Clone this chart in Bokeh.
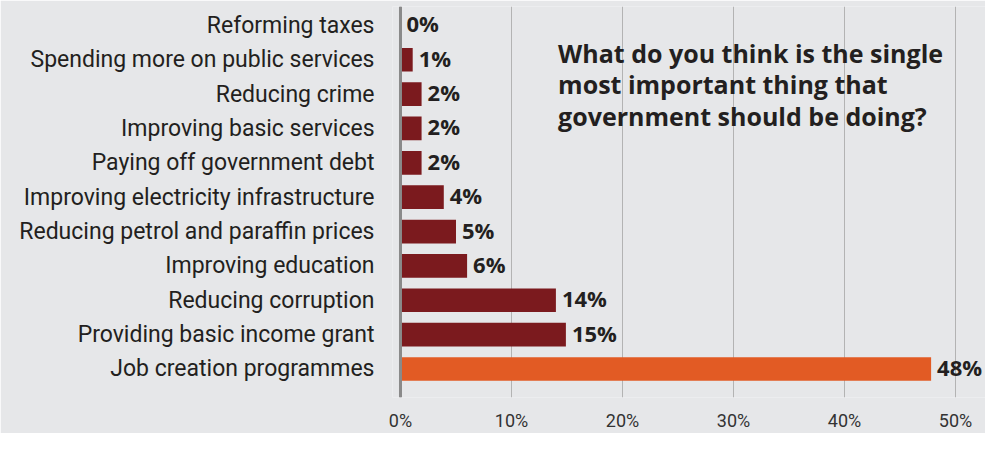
from bokeh.plotting import figure
from bokeh.models import ColumnDataSource, Range1d, FixedTicker, Span, Label
from bokeh.core.properties import value
from bokeh.embed import file_html
from bokeh.resources import INLINE

categories = [
    "Job creation programmes",
    "Providing basic income grant",
    "Reducing corruption",
    "Improving education",
    "Reducing petrol and paraffin prices",
    "Improving electricity infrastructure",
    "Paying off government debt",
    "Improving basic services",
    "Reducing crime",
    "Spending more on public services",
    "Reforming taxes",
]
values = [47.8, 14.9, 14.0, 6.0, 5.0, 3.9, 1.9, 1.9, 1.9, 1.1, 0.0]
value_labels = ["48%", "15%", "14%", "6%", "5%", "4%", "2%", "2%", "2%", "1%", "0%"]
x_ticks = [0, 10, 20, 30, 40, 50]
x_tick_labels = ["0%", "10%", "20%", "30%", "40%", "50%"]
title_lines = [
    "What do you think is the single",
    "most important thing that",
    "government should be doing?",
]

BG = "#e6e7e9"
DARK = "#7b1a1e"
ORANGE = "#e25b24"
TXT = "#231f20"
BOLD_FONT = "Open Sans"

ypos = list(range(len(categories)))
colors = [ORANGE] + [DARK] * (len(categories) - 1)
src = ColumnDataSource(dict(y=ypos, v=values, lab=value_labels, c=colors, cat=categories))

p = figure(
    width=985, height=433,
    x_range=Range1d(-0.72, 52.7),
    y_range=Range1d(-0.83, 10.55),
    output_backend="svg", toolbar_location=None,
    min_border_left=392, min_border_right=0, min_border_top=6, min_border_bottom=28,
    background_fill_color=BG, border_fill_color=BG,
)
p.outline_line_color = None

p.hbar(y="y", left=0, right="v", height=0.69, fill_color="c", line_color=None, source=src)
p.text(x="v", y="y", text="lab", source=src, x_offset=6, y_offset=-2,
       text_font=value(BOLD_FONT), text_font_style="bold", text_font_size="22px",
       text_color=TXT, text_align="left", text_baseline="middle")

p.add_layout(Span(location=0, dimension="height", line_color="#8a8a8a", line_width=3))

# grid
p.xgrid.ticker = FixedTicker(ticks=x_ticks)
p.xgrid.grid_line_color = "#b3b3b3"
p.xgrid.grid_line_width = 1
p.ygrid.grid_line_color = None

# x axis
p.xaxis.ticker = FixedTicker(ticks=x_ticks)
p.xaxis.major_label_overrides = {t: l for t, l in zip(x_ticks, x_tick_labels)}
p.xaxis.axis_line_color = None
p.xaxis.major_tick_line_color = None
p.xaxis.minor_tick_line_color = None
p.xaxis.major_label_text_font = "Roboto"
p.xaxis.major_label_text_font_size = "18px"
p.xaxis.major_label_text_color = "#333333"
p.xaxis.major_label_standoff = 6

# y axis
p.yaxis.ticker = FixedTicker(ticks=ypos)
p.yaxis.major_label_overrides = {i: c for i, c in zip(ypos, categories)}
p.yaxis.axis_line_color = None
p.yaxis.major_tick_line_color = None
p.yaxis.minor_tick_line_color = None
p.yaxis.major_label_text_font = "Roboto"
p.yaxis.major_label_text_font_size = "23px"
p.yaxis.major_label_text_color = TXT
p.yaxis.major_label_standoff = 12

title_y = [9.2, 8.29, 7.35]
for line, ty in zip(title_lines, title_y):
    p.add_layout(Label(x=14.2, y=ty, text=line, text_font=BOLD_FONT, text_font_style="bold",
                       text_font_size="25px", text_color=TXT, text_baseline="middle"))

open("out.html", "w").write(file_html(p, INLINE))
